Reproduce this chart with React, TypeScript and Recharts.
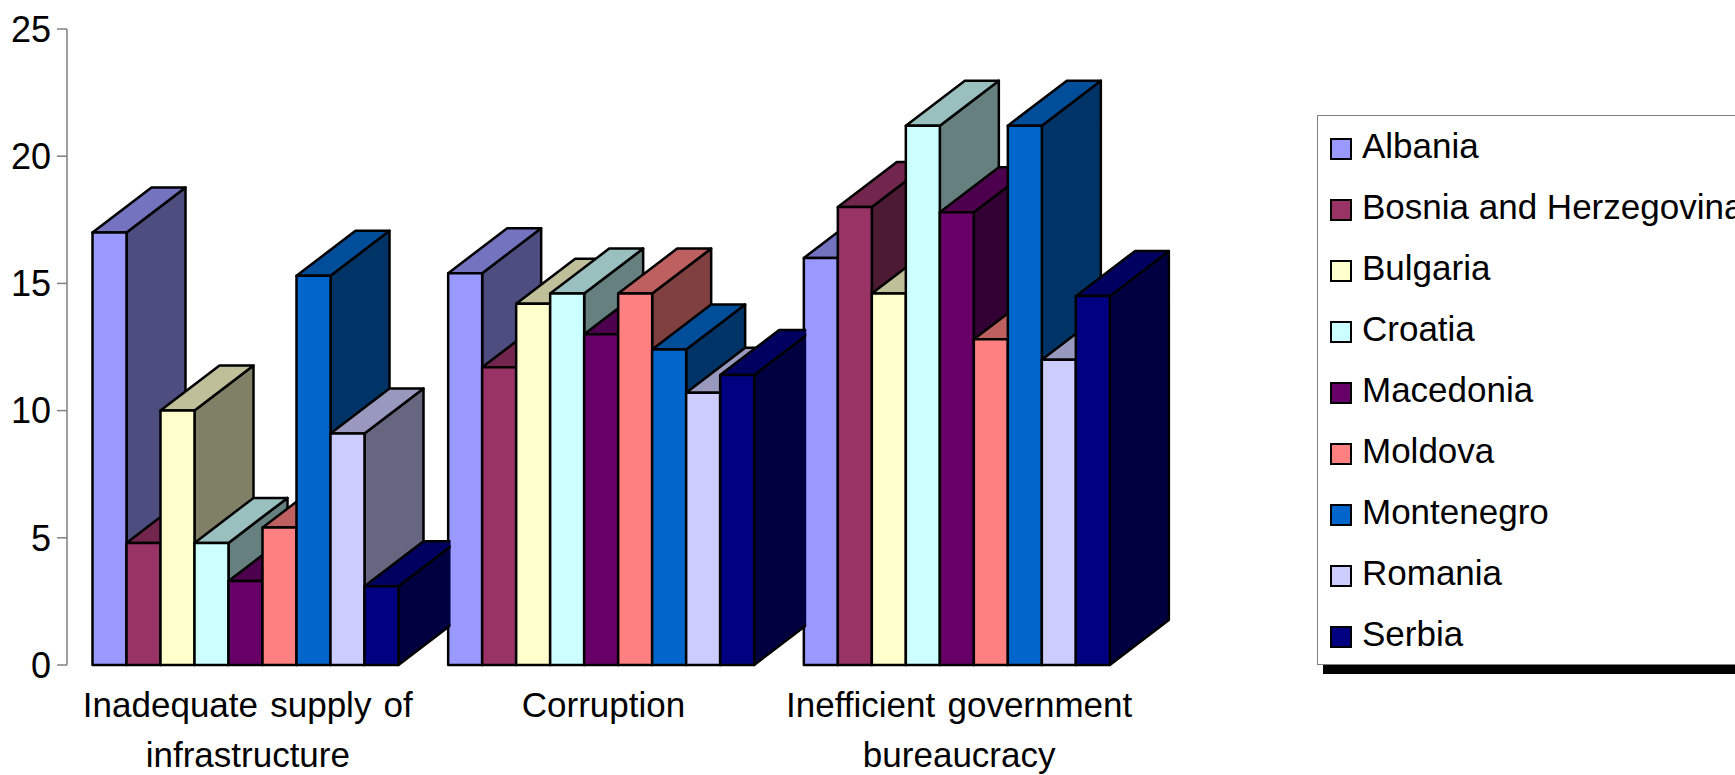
import { Bar, BarChart, Legend, XAxis, YAxis } from "recharts";

const categories = [
  "Inadequate supply of infrastructure",
  "Corruption",
  "Inefficient government bureaucracy",
];
const categoryLines = [
  ["Inadequate supply of", "infrastructure"],
  ["Corruption"],
  ["Inefficient government", "bureaucracy"],
];
const yTicks = [0, 5, 10, 15, 20, 25];

const albania = [17.0, 15.4, 16.0];
const bosnia = [4.8, 11.7, 18.0];
const bulgaria = [10.0, 14.2, 14.6];
const croatia = [4.8, 14.6, 21.2];
const macedonia = [3.3, 13.0, 17.8];
const moldova = [5.4, 14.6, 12.8];
const montenegro = [15.3, 12.4, 21.2];
const romania = [9.1, 10.7, 12.0];
const serbia = [3.1, 11.4, 14.5];

const seriesNames = [
  "Albania",
  "Bosnia and Herzegovina",
  "Bulgaria",
  "Croatia",
  "Macedonia",
  "Moldova",
  "Montenegro",
  "Romania",
  "Serbia",
];
const seriesValues = [albania, bosnia, bulgaria, croatia, macedonia, moldova, montenegro, romania, serbia];
const seriesColors = ["#9999FF", "#993366", "#FFFFCC", "#CCFFFF", "#660066", "#FF8080", "#0066CC", "#CCCCFF", "#000080"];

const data = categories.map((name, i) => {
  const row: Record<string, string | number> = { name };
  seriesNames.forEach((s, k) => {
    row[s] = seriesValues[k][i];
  });
  return row;
});

const FONT = '"Liberation Sans", Arial, sans-serif';
const DEPTH_X = 59;
const DEPTH_Y = 45;
const GROUP_GAP = 51;

// darken a #rrggbb colour, used for the top and side faces
function shade(hex: string, f: number) {
  const n = parseInt(hex.slice(1), 16);
  const c = [(n >> 16) & 255, (n >> 8) & 255, n & 255].map((v) => Math.round(v * f));
  return `rgb(${c[0]},${c[1]},${c[2]})`;
}

// fake 3D column: front face plus top and side faces going back
function Column3D(props: any) {
  const { x, y, width, height, fill, index, clipNext } = props;
  const r = x + width;
  const b = y + height;
  const clipId = `clip-${index}`;
  const clipped = clipNext && index < categories.length - 1;
  const line = { stroke: "#000", strokeWidth: 2.5, strokeLinejoin: "round" as const };
  return (
    <g>
      {clipped && (
        <clipPath id={clipId}>
          <rect x={x - 5} y={0} width={width + 6 + GROUP_GAP} height={775} />
        </clipPath>
      )}
      <g clipPath={clipped ? `url(#${clipId})` : undefined}>
        <polygon
          points={`${r},${y} ${r + DEPTH_X},${y - DEPTH_Y} ${r + DEPTH_X},${b - DEPTH_Y} ${r},${b}`}
          fill={shade(fill, 0.5)}
          {...line}
        />
        <polygon
          points={`${x},${y} ${x + DEPTH_X},${y - DEPTH_Y} ${r + DEPTH_X},${y - DEPTH_Y} ${r},${y}`}
          fill={shade(fill, 0.75)}
          {...line}
        />
      </g>
      <rect x={x} y={y} width={width} height={height} fill={fill} {...line} />
    </g>
  );
}

function CategoryTick({ x, y, index }: any) {
  return (
    <text x={x + 3} y={y + 44} textAnchor="middle" fontSize={35} fontFamily={FONT} fill="#000" wordSpacing={2.5}>
      {categoryLines[index].map((t, i) => (
        <tspan key={t} x={x + 3} dy={i === 0 ? 0 : 50}>
          {t}
        </tspan>
      ))}
    </text>
  );
}

function ChartLegend({ payload }: any) {
  return (
    <div
      style={{
        width: 520,
        height: 550,
        boxSizing: "border-box",
        background: "#fff",
        border: "1.5px solid #808080",
        boxShadow: "6px 9px 0 #000",
        paddingLeft: 12,
        fontFamily: FONT,
        fontSize: 35,
        color: "#000",
      }}
    >
      {payload.map((p: any) => (
        <div key={p.value} style={{ height: 61, display: "flex", alignItems: "center", whiteSpace: "nowrap" }}>
          <span
            style={{
              width: 22,
              height: 22,
              boxSizing: "border-box",
              background: p.color,
              border: "2.5px solid #000",
              marginRight: 11,
              marginTop: 5,
              flex: "none",
            }}
          />
          <span style={{ position: "relative", top: -1, left: -1 }}>{p.value}</span>
        </div>
      ))}
    </div>
  );
}

export default function App() {
  return (
    <div style={{ position: "absolute", left: 0, top: 0, width: 1735, height: 775, overflow: "hidden", background: "#fff" }}>
      <BarChart
        width={1735}
        height={775}
        data={data}
        margin={{ top: 29, right: 601, bottom: 0, left: 0 }}
        barCategoryGap={GROUP_GAP / 2}
        barGap={0}
      >
        <XAxis dataKey="name" axisLine={false} tickLine={false} interval={0} height={110} tick={<CategoryTick />} />
        <YAxis
          width={67}
          domain={[0, 25]}
          ticks={yTicks}
          interval={0}
          axisLine={{ stroke: "#808080", strokeWidth: 1.5 }}
          tickLine={{ stroke: "#808080", strokeWidth: 1.5 }}
          tickSize={10}
          tickMargin={6}
          tick={{ fontSize: 36, fontFamily: FONT, fill: "#000" }}
        />
        <Legend
          layout="horizontal"
          verticalAlign="middle"
          align="center"
          content={<ChartLegend />}
          wrapperStyle={{ left: 1317, top: 115, bottom: "auto", width: 520 }}
        />
        {seriesNames.map((s, k) => (
          <Bar
            key={s}
            dataKey={s}
            fill={seriesColors[k]}
            isAnimationActive={false}
            shape={(p: any) => <Column3D {...p} clipNext={k === seriesNames.length - 1} />}
          />
        ))}
      </BarChart>
    </div>
  );
}
